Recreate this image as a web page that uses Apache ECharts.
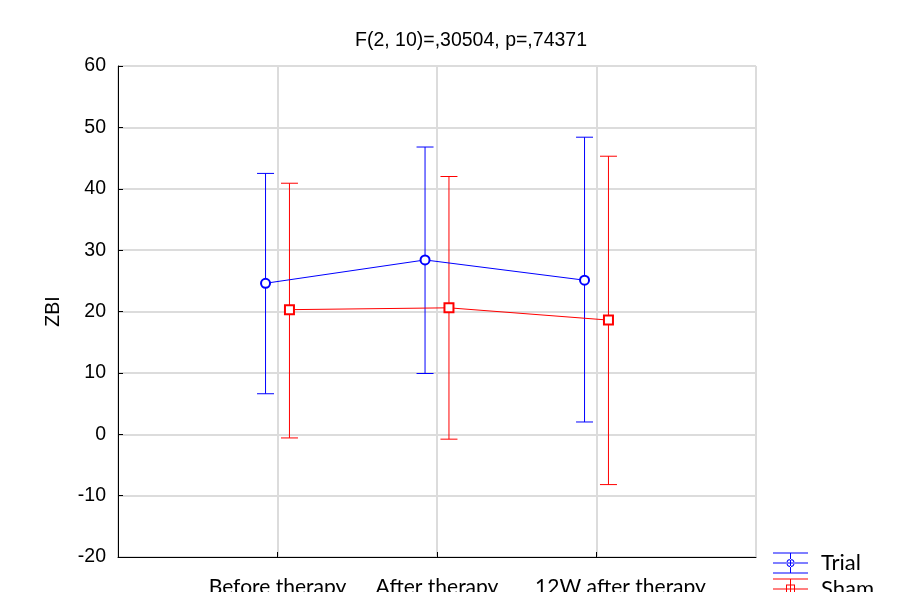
<!DOCTYPE html>
<html>
<head>
<meta charset="utf-8">
<script src="https://cdn.jsdelivr.net/npm/echarts@6/dist/echarts.min.js"></script>
<style>html,body{margin:0;padding:0;background:#fff;}#c{width:899px;height:592px;}</style>
</head>
<body>
<div id="c"></div>
<script>
// ---- data ----
const categories = ['Before therapy', 'After therapy', '12W after therapy'];
const yTicks = [-20, -10, 0, 10, 20, 30, 40, 50, 60];
const trialMean = [24.6, 28.4, 25.1];
const trialLow  = [6.6, 9.9, 2.0];
const trialHigh = [42.5, 46.8, 48.4];
const shamMean  = [20.3, 20.6, 18.6];
const shamLow   = [-0.6, -0.8, -8.2];
const shamHigh  = [40.9, 42.0, 45.3];
const titleText = 'F(2, 10)=,30504, p=,74371';
const yName = 'ZBI';

// ---- chart ----
const OFF = 0.075;
const pos = (i, s) => i + 1 + s * OFF;
const trialPts = trialMean.map((v, i) => [pos(i, -1), v]);
const shamPts = shamMean.map((v, i) => [pos(i, 1), v]);
function whiskers(low, high, s) {
  const out = [];
  low.forEach((lo, i) => {
    out.push([pos(i, s), lo], [pos(i, s), high[i]], [pos(i, s), '-']);
  });
  return out;
}
const trialWhisk = whiskers(trialLow, trialHigh, -1);
const shamWhisk = whiskers(shamLow, shamHigh, 1);

const capSymbol = 'path://M0 0 L17 0 L17 1 L0 1 Z';

// legend icons (35 x 21 box)
const ringCircle = 'M13.5 10.5 A4 4 0 1 0 21.5 10.5 A4 4 0 1 0 13.5 10.5 Z M14.5 10.5 A3 3 0 1 1 20.5 10.5 A3 3 0 1 1 14.5 10.5 Z';
const ringRect = 'M13 6 L22 6 L22 15 L13 15 Z M14 7 L14 14 L21 14 L21 7 Z';
const barsPath = 'M0 0 L35 0 L35 1 L0 1 Z M0 10 L35 10 L35 11 L0 11 Z M0 20 L35 20 L35 21 L0 21 Z M17 0 L18 0 L18 21 L17 21 Z ';
const iconTrial = 'path://' + barsPath + ringCircle;
const iconSham = 'path://' + barsPath + ringRect;

const chart = echarts.init(document.getElementById('c'));
chart.setOption({
  animation: false,
  backgroundColor: '#fff',
  title: {
    text: titleText,
    left: 350, top: 26,
    textStyle: { fontFamily: 'Liberation Sans', fontSize: 19.5, fontWeight: 'normal', color: '#000' }
  },
  grid: {
    left: 118, right: 143, top: 66, bottom: 35,
    containLabel: false, outerBoundsMode: 'none',
    show: true, borderColor: '#000', borderWidth: 1, backgroundColor: 'transparent'
  },
  legend: {
    orient: 'vertical', left: 773, top: 552, height: 120, padding: 0,
    itemWidth: 35, itemHeight: 21, itemGap: 4,
    itemStyle: { borderWidth: 0 },
    textStyle: { fontFamily: 'Lato', fontSize: 22, color: '#000', padding: [0, 0, 0, 8] },
    data: [{ name: 'Trial', icon: iconTrial }, { name: 'Sham', icon: iconSham }]
  },
  xAxis: {
    type: 'value', min: 0, max: 4, interval: 1,
    axisLine: { show: true, onZero: false, lineStyle: { color: '#000' } },
    axisTick: { show: true, inside: true, length: 5, lineStyle: { color: '#000' } },
    splitLine: { show: true, lineStyle: { color: '#dcdcdc', width: 2 } },
    axisLabel: {
      margin: 20,
      showMinLabel: false, showMaxLabel: false,
      fontFamily: 'Lato', fontSize: 21, color: '#000',
      formatter: function (v) {
        const i = Math.round(v) - 1;
        if (i < 0 || i >= categories.length) return '';
        return i === 2 ? '{s|' + categories[i] + '}' : categories[i];
      },
      rich: { s: { fontFamily: 'Lato', fontSize: 21, color: '#000', padding: [0, 0, 0, 48] } }
    }
  },
  yAxis: {
    type: 'value', min: yTicks[0], max: yTicks[yTicks.length - 1], interval: 10,
    name: yName, nameLocation: 'middle', nameGap: 54, nameRotate: 90,
    nameTextStyle: { fontFamily: 'Liberation Sans', fontSize: 19.5, color: '#000' },
    axisLine: { show: true, onZero: false, lineStyle: { color: '#000' } },
    axisTick: { show: true, inside: true, length: 5, lineStyle: { color: '#000' } },
    splitLine: { show: true, lineStyle: { color: '#dcdcdc', width: 2 } },
    axisLabel: { margin: 12, fontFamily: 'Liberation Sans', fontSize: 19.5, color: '#000' }
  },
  series: [
    {
      name: 'TrialErr', type: 'line', data: trialWhisk, connectNulls: false,
      symbol: capSymbol, symbolSize: [17, 1], showAllSymbol: true,
      lineStyle: { color: '#0000ff', width: 1 },
      itemStyle: { color: '#0000ff', borderWidth: 0 }, z: 3, silent: true
    },
    {
      name: 'ShamErr', type: 'line', data: shamWhisk, connectNulls: false,
      symbol: capSymbol, symbolSize: [17, 1], showAllSymbol: true,
      lineStyle: { color: '#ff0000', width: 1 },
      itemStyle: { color: '#ff0000', borderWidth: 0 }, z: 3, silent: true
    },
    {
      name: 'Trial', type: 'line', data: trialPts, color: '#0000ff',
      symbol: 'emptyCircle', symbolSize: 9,
      lineStyle: { color: '#0000ff', width: 1 },
      itemStyle: { color: '#0000ff', borderWidth: 1 }, z: 4
    },
    {
      name: 'Sham', type: 'line', data: shamPts, color: '#ff0000',
      symbol: 'emptyRect', symbolSize: 9,
      lineStyle: { color: '#ff0000', width: 1 },
      itemStyle: { color: '#ff0000', borderWidth: 1 }, z: 4
    }
  ]
});
</script>
</body>
</html>
